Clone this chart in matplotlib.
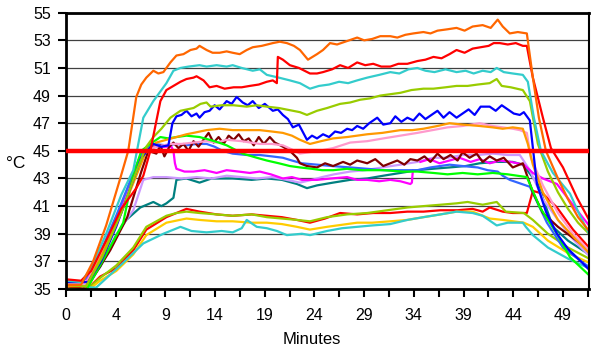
import numpy as np
import matplotlib
matplotlib.use("Agg")
import matplotlib.pyplot as plt

plt.rcParams['font.family'] = ['Liberation Sans', 'DejaVu Sans']

nan = float('nan')

# ---- data (minutes, deg C) ----
orange_t = [0, 1.5, 2.7, 4, 5.4, 6.2, 7.0, 7.5, 8, 8.7, 9.2, 9.7, 10.4, 11, 11.7, 12.4, 13, 13.3, 14, 14.6, 15.3, 16, 16.6, 17.3, 18, 18.6, 19.5, 20.6, 21.3, 22, 22.7, 23.3, 24.1, 25, 25.6, 26.3, 27, 27.8, 29, 29.7, 30.5, 31.3, 32.3, 33, 33.8, 34.6, 35.6, 36.3, 37, 38, 38.9, 39.7, 40.5, 41.5, 42.3, 43.0, 43.5, 44.2, 45, 45.9, 46.5, 47.1, 47.8, 49, 50, 51, 52.1]
orange_y = [35.3, 35.3, 37.0, 39.6, 43.0, 45.0, 48.9, 49.8, 50.3, 50.8, 50.6, 50.7, 51.4, 51.9, 52.0, 52.3, 52.4, 52.6, 52.3, 52.1, 52.1, 52.2, 52.1, 52.0, 52.3, 52.5, 52.6, 52.8, 52.9, 52.8, 52.6, 52.3, 51.6, 52.0, 52.3, 52.8, 52.7, 52.9, 53.2, 53.0, 53.1, 53.3, 53.3, 53.2, 53.4, 53.5, 53.6, 53.5, 53.7, 53.8, 53.9, 53.7, 54.0, 54.1, 53.9, 54.5, 54.0, 53.5, 53.6, 53.5, 50.3, 47.4, 45.0, 43.0, 41.5, 40.2, 39.2]

red_t = [0, 1.5, 2.5, 4, 5.5, 7, 7.7, 8.4, 9.4, 10, 10.7, 11.4, 12, 12.7, 13, 13.7, 14.3, 15, 15.8, 16.7, 17.5, 18.3, 19.2, 20, 20.6, 21.0, 21.1, 21.6, 22.3, 23.2, 24.3, 25.0, 25.6, 26.5, 27.3, 28.1, 29, 29.8, 30.6, 31.4, 32.3, 33.1, 34, 35, 35.8, 36.6, 37.4, 38.2, 38.9, 39.7, 40.5, 41.3, 42.1, 42.6, 43.2, 44, 44.8, 45.5, 45.9, 46.5, 47.5, 48.3, 49.5, 50.9, 52.1]
red_y = [35.7, 35.6, 36.3, 38.5, 40.8, 42.3, 43.2, 45.0, 48.6, 49.4, 49.7, 50.0, 50.2, 50.3, 50.4, 50.1, 49.6, 49.7, 49.5, 49.6, 49.6, 49.7, 49.8, 50.0, 50.1, 49.9, 51.8, 51.6, 51.2, 51.0, 50.6, 50.6, 50.7, 50.9, 51.2, 51.0, 51.4, 51.2, 51.3, 51.1, 51.1, 51.3, 51.3, 51.5, 51.6, 51.8, 51.7, 52.0, 52.3, 52.1, 52.4, 52.5, 52.6, 52.8, 52.8, 52.7, 52.8, 52.6, 52.6, 50.3, 47.4, 45.2, 43.8, 41.6, 40.0]

cyan_t = [0, 1.5, 2.5, 4, 5.5, 6.7, 7.7, 8.7, 10, 10.7, 11.4, 12.2, 13.3, 14, 15, 16, 16.6, 17.5, 18.6, 19.3, 20, 21.2, 22.3, 23.3, 24.3, 25.2, 26.2, 27.2, 28.1, 29, 30, 31.2, 32.3, 33.2, 34.1, 35, 35.8, 36.7, 37.8, 38.9, 39.8, 40.6, 41.5, 42.3, 42.9, 43.6, 44.5, 45.5, 46.0, 46.6, 47.3, 48.5, 50.2, 51.2, 52.1]
cyan_y = [35.6, 35.5, 36.5, 39.0, 41.8, 43.6, 47.4, 48.6, 49.9, 50.8, 51.0, 51.1, 51.2, 51.1, 51.2, 51.1, 51.2, 51.0, 50.8, 50.9, 50.5, 50.3, 50.1, 49.9, 49.5, 49.7, 49.8, 50.0, 49.9, 50.1, 50.3, 50.5, 50.7, 50.6, 50.9, 51.0, 50.8, 50.7, 50.9, 50.7, 50.8, 50.6, 50.8, 50.7, 51.0, 50.7, 50.6, 50.5, 50.0, 47.4, 45.0, 43.4, 41.9, 40.3, 39.0]

ygreen_t = [0, 2, 3.6, 5.5, 7, 8, 8.7, 9.5, 10.4, 11.4, 12.7, 13.4, 14, 14.4, 15.5, 16.7, 18, 19, 20, 21.2, 22.6, 23.3, 24, 25, 26, 27.3, 28.3, 29.3, 30.3, 31.3, 32.3, 33.3, 34.4, 35.6, 36.6, 37.8, 38.9, 40, 41, 42.2, 42.9, 43.4, 44.3, 45.5, 46.2, 47, 48, 49, 50, 51, 52.1]
ygreen_y = [35.3, 35.2, 37.3, 40.5, 43.5, 45.3, 46.0, 46.6, 47.4, 47.9, 48.1, 48.4, 48.5, 48.2, 48.3, 48.3, 48.2, 48.3, 48.2, 48.1, 47.9, 47.8, 47.6, 47.9, 48.1, 48.4, 48.5, 48.7, 48.8, 49.0, 49.1, 49.2, 49.4, 49.5, 49.5, 49.6, 49.7, 49.7, 49.8, 49.9, 50.2, 49.7, 49.6, 49.4, 48.6, 45.5, 43.5, 42.0, 40.8, 39.8, 39.0]

blue_t = [0, 1.5, 2.2, 3.5, 5, 6.5, 7.5, 8.7, 9.5, 10.2, 10.6, 11, 11.5, 12, 12.5, 13, 13.3, 13.8, 14.3, 14.8, 15.3, 16, 16.5, 17, 17.6, 18.1, 18.6, 19.2, 19.8, 20.6, 21.1, 21.6, 22.1, 22.6, 23.2, 24, 24.5, 25, 25.6, 26.2, 26.8, 27.4, 28, 28.5, 29, 29.6, 30.2, 31, 31.6, 32.3, 32.8, 33.4, 34, 34.6, 35.2, 35.8, 36.4, 37, 37.6, 38.2, 38.9, 39.5, 40.1, 40.7, 41.3, 42.2, 42.8, 43.4, 44, 44.6, 45.2, 45.6, 46.2, 46.9, 47.8, 48.9, 50, 51, 52.1]
blue_y = [35.5, 35.5, 35.5, 37.0, 39.5, 42.5, 44.5, 45.5, 45.3, 45.4, 47.0, 47.5, 47.6, 47.9, 47.5, 47.7, 47.4, 47.8, 47.9, 48.3, 48.0, 48.6, 48.4, 48.9, 48.5, 48.3, 48.6, 48.1, 48.4, 47.9, 48.0, 47.6, 47.3, 46.7, 46.9, 45.8, 46.1, 45.9, 46.2, 46.0, 46.4, 46.3, 46.6, 46.5, 46.8, 46.6, 47.0, 47.4, 46.9, 47.0, 47.5, 47.1, 47.4, 47.2, 47.7, 47.3, 47.6, 47.9, 47.4, 47.8, 47.4, 47.7, 48.0, 47.6, 48.2, 48.2, 47.9, 48.3, 48.0, 47.7, 47.6, 47.8, 47.2, 42.6, 40.6, 39.0, 37.9, 37.2, 36.4]

lorange_t = [0, 2, 3.6, 5.5, 7, 8, 9, 10, 11, 12, 12.7, 14, 15.3, 16.6, 18, 19.3, 20.5, 21.6, 22.5, 23.3, 24.3, 25.4, 26.6, 28, 29, 30, 31.5, 33.3, 34.5, 35.6, 37, 38.2, 39.5, 41.2, 42.5, 43.5, 44.5, 45.5, 46.0, 46.5, 47.5, 49, 50.5, 52.1]
lorange_y = [35.2, 35.2, 37.5, 40.5, 43.2, 45.0, 45.6, 45.8, 46.0, 46.2, 46.3, 46.5, 46.6, 46.5, 46.5, 46.5, 46.4, 46.3, 46.1, 45.8, 45.5, 45.7, 45.9, 46.0, 46.1, 46.2, 46.3, 46.5, 46.5, 46.6, 46.8, 47.0, 46.9, 46.8, 46.7, 46.6, 46.7, 46.6, 45.5, 44.0, 42.0, 40.0, 38.8, 37.6]

pink_t = [0, 2, 3.5, 5.5, 7, 8, 9, 10.4, 11.5, 12.7, 14, 15, 16, 17.5, 19.3, 20.5, 21.6, 22.5, 23.3, 24.2, 25.2, 26.6, 28.3, 30, 31.6, 33.3, 35, 36.5, 38, 39.5, 41.2, 42.5, 43.5, 44.5, 45.2, 45.9, 46.3, 47.5, 49, 50.5, 52.1]
pink_y = [35.4, 35.4, 37.5, 40.5, 43.5, 45.0, 45.3, 45.5, 45.5, 45.6, 45.7, 45.6, 45.8, 45.7, 45.5, 45.5, 45.4, 45.1, 44.8, 44.9, 45.0, 45.2, 45.6, 45.7, 45.9, 46.1, 46.3, 46.5, 46.7, 46.8, 47.0, 46.8, 46.7, 46.6, 46.5, 46.3, 44.5, 42.5, 40.5, 39.0, 37.8]

maroon_t = [0, 2, 4.4, 6.1, 7.5, 8.2, 9, 9.4, 9.8, 10.3, 10.7, 11.2, 11.7, 12.2, 12.7, 13.2, 13.7, 14.2, 14.7, 15.2, 15.7, 16.2, 16.7, 17.2, 17.7, 18.2, 18.7, 19.2, 19.7, 20.3, 20.8, 21.6, 22.3, 23, 23.3, 24, 25, 25.8, 26.6, 27.6, 28.3, 29, 30, 30.8, 31.6, 32.3, 33, 33.7, 34.3, 35, 35.7, 36.3, 37, 37.6, 38.3, 39, 39.5, 40.2, 40.9, 41.5, 42.2, 42.9, 43.6, 44.5, 45.5, 46.5, 47.5, 49, 50.5, 52.1]
maroon_y = [35.2, 35.0, 37.8, 40.2, 43.5, 45.0, 44.8, 45.4, 44.6, 45.3, 45.6, 45.2, 45.5, 45.0, 45.7, 45.3, 45.8, 46.3, 45.6, 46.0, 45.5, 46.1, 45.8, 46.2, 45.7, 45.9, 45.4, 46.0, 45.5, 46.0, 45.6, 45.3, 45.0, 44.5, 44.1, 43.9, 43.8, 44.1, 43.9, 44.2, 44.0, 44.3, 44.1, 44.4, 43.9, 44.1, 44.3, 44.0, 44.4, 44.3, 44.6, 44.2, 44.8, 44.4, 44.7, 44.3, 44.9, 44.5, 44.8, 44.2, 44.6, 44.3, 44.5, 43.8, 44.1, 42.0, 40.5, 39.5, 38.7, 37.8]

green_t = [0, 2, 3.7, 5.7, 6.6, 7.5, 8.4, 9.4, 10.2, 11, 12, 13.3, 14.3, 15.2, 16, 16.8, 17.6, 19, 20, 21.2, 22.3, 23.3, 24.5, 25.5, 26.6, 28, 29.5, 31.6, 33.5, 35, 36.6, 38, 39.5, 41, 42.5, 44, 45.9, 47.2, 48.9, 50.2, 52.1]
green_y = [35.0, 34.9, 37.1, 39.8, 43.0, 45.0, 45.5, 46.0, 45.9, 46.0, 46.1, 46.0, 45.8, 45.6, 45.4, 45.1, 44.8, 44.5, 44.3, 44.1, 43.9, 43.8, 43.7, 43.6, 43.6, 43.7, 43.6, 43.6, 43.5, 43.5, 43.4, 43.3, 43.4, 43.3, 43.4, 43.3, 43.1, 40.9, 39.0, 37.3, 36.0]

mblue_t = [0, 1.5, 2, 3.4, 5, 6.5, 7.5, 8.7, 10, 11, 12, 13, 14, 14.8, 15.6, 16.6, 18, 19.3, 20.5, 21.6, 22.5, 23.5, 25, 26.5, 28.3, 30, 31.6, 33.2, 35, 36.3, 38.2, 39.5, 41, 42, 43, 43.5, 44.2, 45, 46.2, 47.9, 49.5, 51.5, 52.1]
mblue_y = [35.5, 35.4, 35.8, 37.6, 40.3, 43.0, 44.8, 45.5, 45.4, 45.5, 45.4, 45.5, 45.5, 45.3, 45.0, 44.8, 44.7, 44.7, 44.6, 44.5, 44.3, 44.1, 44.0, 43.9, 43.8, 43.7, 43.6, 43.6, 43.6, 43.8, 44.0, 43.9, 43.8, 43.6, 43.5, 43.2, 42.9, 42.7, 42.4, 39.8, 38.0, 36.9, 36.6]

magenta_t = [0, 2, 3.5, 5, 6.5, 7.5, 8.5, 9.5, 10.5, 10.7, 10.85, 11, 11.8, 12.7, 13.8, 15, 16, 17.2, 18.3, 19.3, 20.4, 21.6, 22.5, 23.5, 25, 26.4, 28, 29, 30, 31.2, 32.3, 33.3, 34.3, 34.45, 34.55, 34.6, 35.3, 36.2, 37.2, 38.2, 39.2, 40.3, 41.2, 42.2, 43.2, 44.3, 45.6, 46.5, 47.5, 48.9, 50.9, 52.1]
magenta_y = [35.3, 35.5, 37.5, 40.0, 43.0, 44.8, 45.3, 45.3, 45.3, 45.0, 44.1, 43.7, 43.5, 43.5, 43.6, 43.4, 43.6, 43.5, 43.4, 43.5, 43.3, 43.0, 43.1, 42.9, 42.9, 43.0, 43.1, 42.9, 42.9, 42.8, 42.9, 42.8, 42.6, 42.7, 43.6, nan, 44.2, 44.4, 44.1, 44.3, 44.5, 44.2, 44.4, 44.1, 44.3, 44.2, 44.0, 43.4, 43.0, 42.6, 40.7, 39.6]

lav_t = [0, 1.5, 2.5, 4, 5.5, 6.7, 7.7, 8.7, 10, 11.5, 13, 14.5, 16, 17.5, 19, 20.5, 22, 23.3, 24.5, 25.5, 26.7, 28.3, 29.8, 31.5, 33.3, 35, 36.6, 38, 39.5, 41, 42.5, 44, 45.2, 46.2, 47.5, 49, 50.5, 52.1]
lav_y = [35.1, 35.1, 35.8, 37.5, 39.5, 40.7, 42.9, 43.1, 43.1, 43.0, 43.1, 43.0, 43.2, 43.1, 43.0, 43.1, 42.9, 42.7, 42.9, 43.1, 43.3, 43.5, 43.6, 43.8, 44.0, 44.2, 44.5, 44.5, 44.7, 44.7, 44.8, 44.7, 44.7, 43.6, 41.5, 40.0, 38.6, 37.4]

teal_t = [0, 1.7, 3.4, 5, 6, 7.4, 8.7, 9.5, 10, 10.7, 11, 12, 13.3, 14.5, 16.6, 18.5, 20, 21.5, 23, 24, 25, 26.6, 28.3, 30, 31.6, 33.3, 35, 36.5, 38.2, 39.8, 41.2, 42.8, 44.5, 45.5, 47, 48.5, 50, 52.1]
teal_y = [35.2, 35.0, 36.6, 38.9, 40.0, 40.9, 41.3, 41.0, 41.2, 41.6, 42.9, 43.0, 42.7, 43.0, 43.0, 42.9, 43.0, 42.9, 42.6, 42.3, 42.5, 42.7, 42.9, 43.0, 43.2, 43.4, 43.6, 43.7, 43.8, 43.9, 44.1, 44.2, 44.2, 44.0, 42.6, 39.5, 38.5, 37.5]

redlo_t = [0, 2, 3.4, 5, 6.7, 8, 10, 11, 12, 13.3, 15, 16.6, 18.5, 20, 21.5, 23, 24.3, 25.8, 27.3, 29, 30.6, 32.3, 34, 35.6, 37.3, 39, 40.5, 41.5, 42.2, 43.5, 44.5, 45.5, 45.9, 46.5, 47.5, 48.9, 50.5, 52.1]
redlo_y = [35.5, 34.9, 35.9, 36.5, 37.8, 39.3, 40.2, 40.5, 40.8, 40.6, 40.4, 40.3, 40.4, 40.3, 40.2, 40.0, 39.8, 40.1, 40.5, 40.4, 40.5, 40.5, 40.6, 40.6, 40.7, 40.7, 40.8, 40.6, 40.9, 40.6, 40.5, 40.5, 40.5, 42.1, 41.9, 40.9, 39.3, 38.0]

yglo_t = [0, 2, 3.4, 5, 6.7, 8, 10, 11, 12, 13.3, 15, 16.6, 18.5, 20, 21.5, 23, 24.3, 26, 28, 30, 32, 34, 35.6, 37.3, 38.9, 40, 41.5, 42.9, 43.8, 45.6, 46.5, 48, 50, 52.1]
yglo_y = [35.4, 34.9, 35.8, 36.7, 38.0, 39.5, 40.3, 40.5, 40.6, 40.5, 40.4, 40.3, 40.4, 40.2, 40.1, 40.0, 39.9, 40.2, 40.4, 40.5, 40.7, 40.9, 41.0, 41.1, 41.2, 41.3, 41.1, 41.3, 40.6, 40.5, 40.0, 39.0, 38.0, 37.2]

yellow_t = [0, 2, 3.4, 5, 6.7, 8, 10, 12, 13.3, 15, 16.6, 18.5, 20, 21.5, 23, 24.3, 26, 29, 30.5, 32.3, 34, 35.6, 37.3, 38.9, 40.5, 42.2, 43.5, 45.6, 46.5, 48, 50, 52.1]
yellow_y = [35.3, 34.8, 35.6, 36.3, 37.5, 38.9, 39.8, 40.1, 40.0, 39.9, 39.9, 39.8, 39.8, 39.7, 39.5, 39.3, 39.5, 39.8, 39.8, 39.9, 40.0, 40.2, 40.4, 40.6, 40.6, 40.1, 40.0, 39.8, 39.5, 38.5, 37.6, 36.9]

cyanlo_t = [0, 3, 5.7, 7.7, 9.7, 11.4, 12.5, 14, 15.5, 16.6, 17.5, 18, 19, 20, 21, 22, 23.5, 24.3, 26, 27.5, 29, 30.5, 32.3, 34, 35.6, 37.3, 38.9, 40.5, 41.5, 42.9, 44, 45.5, 45.8, 46.5, 48, 50, 52.1]
cyanlo_y = [35.2, 35.1, 36.9, 38.3, 39.0, 39.5, 39.2, 39.1, 39.2, 39.1, 39.4, 40.0, 39.5, 39.4, 39.2, 38.9, 39.0, 38.9, 39.2, 39.4, 39.5, 39.6, 39.7, 40.0, 40.2, 40.4, 40.6, 40.5, 40.3, 39.6, 39.8, 39.8, 39.5, 38.9, 38.0, 37.2, 36.5]

x_labels = ["0", "4", "9", "14", "19", "24", "29", "34", "39", "44", "49"]
y_ticks = [35, 37, 39, 41, 43, 45, 47, 49, 51, 53, 55]
limit_temp = 45

series = [
    (redlo_t, redlo_y, "#FF0000"),
    (yglo_t, yglo_y, "#99CC00"),
    (yellow_t, yellow_y, "#FFCC00"),
    (cyanlo_t, cyanlo_y, "#33CCCC"),
    (teal_t, teal_y, "#008080"),
    (lav_t, lav_y, "#CC99FF"),
    (magenta_t, magenta_y, "#FF00FF"),
    (mblue_t, mblue_y, "#3366FF"),
    (maroon_t, maroon_y, "#800000"),
    (pink_t, pink_y, "#FF99CC"),
    (green_t, green_y, "#00FF00"),
    (lorange_t, lorange_y, "#FF9900"),
    (blue_t, blue_y, "#0000FF"),
    (ygreen_t, ygreen_y, "#99CC00"),
    (cyan_t, cyan_y, "#33CCCC"),
    (red_t, red_y, "#FF0000"),
    (orange_t, orange_y, "#FF6600"),
]

fig = plt.figure(figsize=(5.91, 3.54), dpi=100)
ax = fig.add_axes([66/591, 1-289/354, 523/591, (289-12.7)/354])

for t, y, c in series:
    ax.plot(t, y, color=c, lw=1.6, solid_joinstyle='round')

ax.axhline(limit_temp, color="#FF0000", lw=3.2, zorder=5)

step = 4.95
ax.set_xlim(0, 523/10.04)
ax.set_ylim(35, 55)
ax.set_xticks([i*step for i in range(len(x_labels))])
ax.set_xticklabels(x_labels)
ax.set_xticks([i*step + step/2 for i in range(len(x_labels))], minor=True)
ax.set_yticks(y_ticks)
ax.tick_params(axis='both', which='both', direction='out', length=6, width=1.5,
               labelsize=11.5, colors='black')
ax.tick_params(axis='x', pad=8)
ax.tick_params(axis='y', pad=5)
ax.yaxis.grid(True, color='#404040', lw=0.9)
ax.set_axisbelow(True)

for s in ['left', 'bottom', 'top']:
    ax.spines[s].set_linewidth(2)
ax.spines['right'].set_linewidth(1.5)

fig.text(16/591, 1-164/354, "°C", fontsize=12.5, ha='center', va='center')
fig.text(312/591, 1-340/354, "Minutes", fontsize=12, ha='center', va='center')

fig.savefig("out.png", dpi=100)
